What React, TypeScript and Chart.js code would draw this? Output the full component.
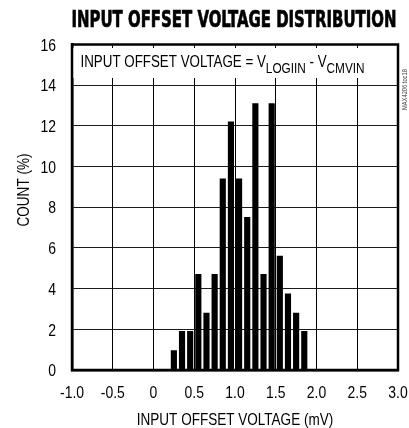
import React, { useEffect, useRef } from "react";
import { Chart, registerables } from "chart.js";

Chart.register(...registerables);

// ---- data ----
const binCenters = [0.25, 0.35, 0.45, 0.55, 0.65, 0.75, 0.85, 0.95, 1.05, 1.15, 1.25, 1.35, 1.45, 1.55, 1.65, 1.75, 1.85];
const countPercent = [0.95, 1.9, 1.9, 4.7, 2.8, 4.7, 9.4, 12.2, 9.4, 7.5, 13.1, 4.7, 13.1, 5.6, 3.75, 2.8, 1.9];
const xTickLabels = ["-1.0", "-0.5", "0", "0.5", "1.0", "1.5", "2.0", "2.5", "3.0"];
const yTickLabels = ["0", "2", "4", "6", "8", "10", "12", "14", "16"];
const chartTitle = "INPUT OFFSET VOLTAGE DISTRIBUTION";
const xAxisTitle = "INPUT OFFSET VOLTAGE (mV)";
const yAxisTitle = "COUNT (%)";
const noteParts = [
  { text: "INPUT OFFSET VOLTAGE = V", sub: false },
  { text: "LOGIIN", sub: true },
  { text: " - V", sub: false },
  { text: "CMVIN", sub: true },
];
const docCode = "MAX4206 toc18";

const SANS = '"Liberation Sans", Arial, sans-serif';
const NARROW_SCALE = 0.82;

function narrowText(ctx: any, text: string, x: number, y: number, size: number, align: string, baseline: string, rot = 0) {
  ctx.save();
  ctx.font = size + "px " + SANS;
  ctx.textAlign = align;
  ctx.textBaseline = baseline;
  ctx.translate(x, y);
  if (rot) ctx.rotate(rot);
  ctx.scale(NARROW_SCALE, 1);
  ctx.fillText(text, 0, 0);
  const w = ctx.measureText(text).width * NARROW_SCALE;
  ctx.restore();
  return w;
}

const decorPlugin = {
  id: "decor",
  afterDatasetsDraw(chart: any) {
    const { ctx, chartArea } = chart;
    const { left, right, top, bottom } = chartArea;
    ctx.save();
    // white box behind note
    ctx.fillStyle = "#fff";
    ctx.fillRect(left, top + 3.5, right - left, 30);
    ctx.fillStyle = "#000";
    let x = 80.5;
    for (const p of noteParts) {
      const w = narrowText(ctx, p.text, x, p.sub ? 72.5 : 67, p.sub ? 14.4 : 16.3, "left", "alphabetic");
      x += w;
    }
    // frame
    ctx.strokeStyle = "#000";
    ctx.lineWidth = 2.5;
    ctx.strokeRect(left, top, right - left, bottom - top);
    ctx.restore();
  },
  afterDraw(chart: any) {
    const { ctx, chartArea, scales } = chart;
    ctx.save();
    ctx.fillStyle = "#000";

    // tick labels from the library's own axes
    const xs = scales.x;
    xs.ticks.forEach((_t: any, i: number) => {
      narrowText(ctx, xTickLabels[i], xs.getPixelForTick(i), 393, 17, "center", "middle");
    });
    const ys = scales.y;
    ys.ticks.forEach((_t: any, i: number) => {
      narrowText(ctx, yTickLabels[i], 56, ys.getPixelForTick(i) + 1.5, 17, "right", "middle");
    });

    // title
    ctx.save();
    ctx.font = 'bold 23px "DejaVu Sans Condensed", "Liberation Sans", sans-serif';
    ctx.textAlign = "center";
    ctx.textBaseline = "alphabetic";
    const tw = ctx.measureText(chartTitle).width;
    const targetW = 325;
    ctx.translate((chartArea.left + chartArea.right) / 2 - 1, 27);
    ctx.scale(targetW / tw, 1);
    ctx.strokeStyle = "#000";
    ctx.lineWidth = 0.7;
    ctx.fillText(chartTitle, 0, 0);
    ctx.strokeText(chartTitle, 0, 0);
    ctx.restore();

    // axis titles
    narrowText(ctx, xAxisTitle, 235, 420, 16.5, "center", "middle");
    narrowText(ctx, yAxisTitle, 24, 190, 16.5, "center", "middle", -Math.PI / 2);

    // document code
    ctx.fillStyle = "#333";
    narrowText(ctx, docCode, 405.5, 110, 7, "left", "middle", -Math.PI / 2);
    ctx.restore();
  },
};

export default function App() {
  const ref = useRef<HTMLCanvasElement | null>(null);
  useEffect(() => {
    if (!ref.current) return;
    const chart = new Chart(ref.current, {
      type: "bar",
      data: {
        datasets: [
          {
            data: binCenters.map((x, i) => ({ x, y: countPercent[i] })),
            backgroundColor: "#000",
            borderWidth: 0,
            barThickness: 5.5,
          },
        ],
      },
      options: {
        responsive: false,
        animation: false,
        events: [],
        layout: { padding: { left: 0, right: 11, top: 44.5, bottom: 0 } },
        plugins: { legend: { display: false }, tooltip: { enabled: false }, title: { display: false } },
        scales: {
          x: {
            type: "linear",
            min: -1,
            max: 3,
            offset: false,
            afterFit: (s: any) => {
              s.height = 58;
            },
            ticks: {
              stepSize: 0.5,
              display: false,
              autoSkip: false,
            },
            grid: { color: "#000", lineWidth: 1, drawTicks: false, offset: false },
            border: { color: "#000", width: 2.5 },
          },
          y: {
            min: 0,
            max: 16,
            afterFit: (s: any) => {
              s.width = 72;
            },
            ticks: {
              stepSize: 2,
              display: false,
            },
            grid: { color: "#1a1a1a", lineWidth: 1, drawTicks: false },
            border: { color: "#000", width: 2.5 },
          },
        },
      },
      plugins: [decorPlugin],
    });
    return () => chart.destroy();
  }, []);
  return (
    <div style={{ position: "absolute", left: 0, top: 0, width: 409, height: 428, background: "#fff" }}>
      <canvas ref={ref} width={409} height={428} style={{ display: "block", width: 409, height: 428 }} />
    </div>
  );
}
